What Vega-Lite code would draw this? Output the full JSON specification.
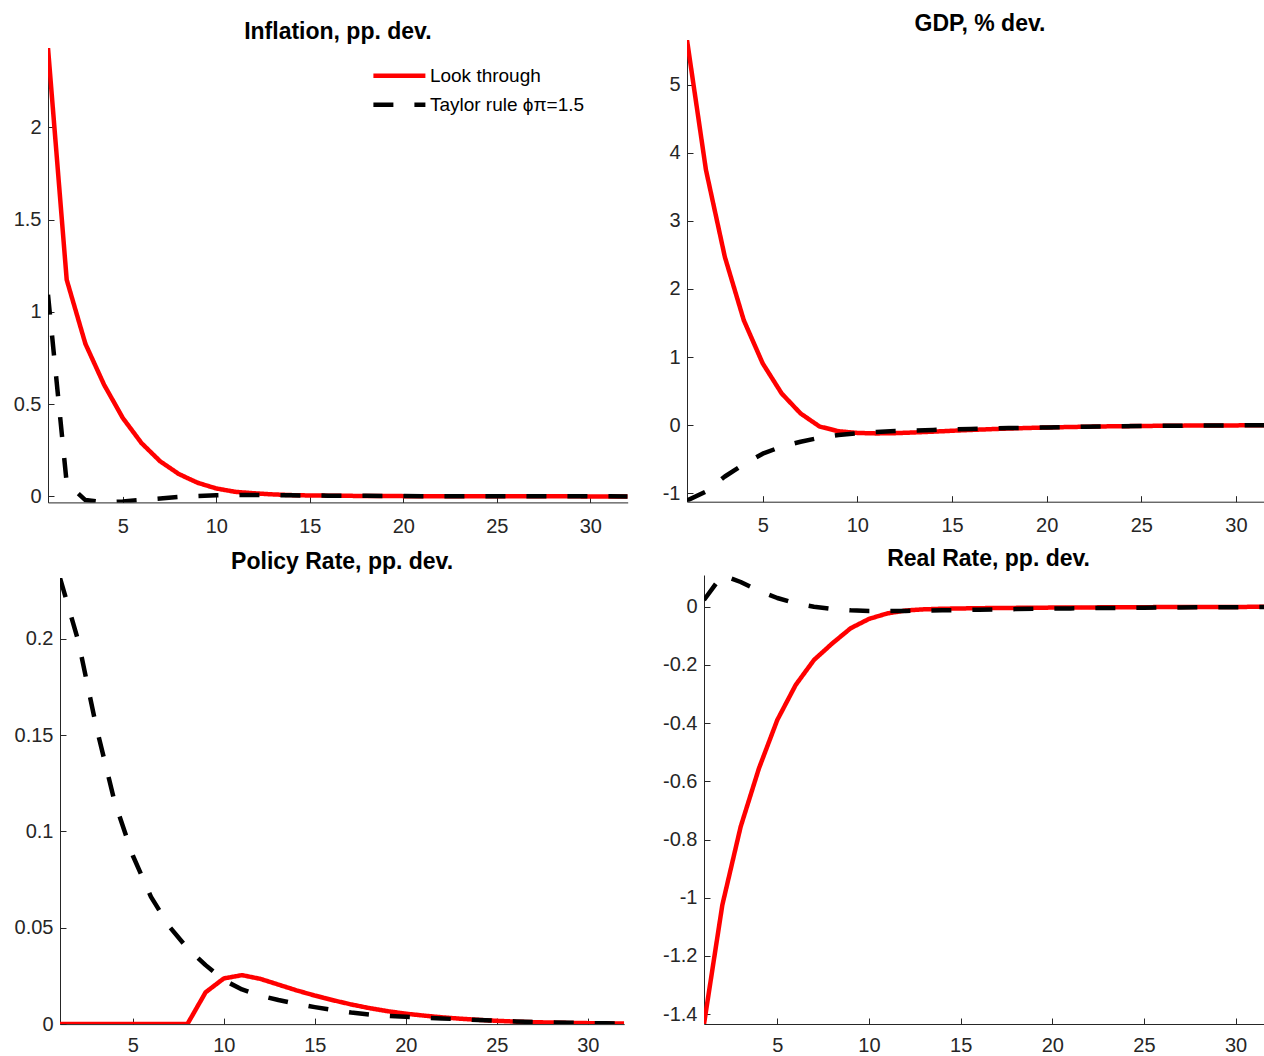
{
  "$schema": "https://vega.github.io/schema/vega-lite/v6.json",
  "padding": {"top": 12, "left": 0, "right": 0, "bottom": 0},
  "background": "white",
  "config": {
    "view": {"stroke": null},
    "font": "Liberation Sans",
    "axis": {"domainColor": "#262626", "domainWidth": 1, "tickColor": "#262626", "tickWidth": 1, "tickSize": -6, "labelColor": "#262626", "labelFont": "Liberation Sans", "labelFontSize": 20, "grid": false},
    "axisX": {"labelPadding": 20},
    "axisY": {"labelPadding": 13},
    "title": {"font": "Liberation Sans", "fontSize": 23, "fontWeight": "bold", "color": "#000000", "offset": 4, "baseline": "bottom", "anchor": "middle"}
  },
  "datasets": {
    "none": [],
    "infl": [
      {"t":1,"s":"Look through","v":2.43},{"t":2,"s":"Look through","v":1.174},{"t":3,"s":"Look through","v":0.827},{"t":4,"s":"Look through","v":0.605},{"t":5,"s":"Look through","v":0.425},{"t":6,"s":"Look through","v":0.289},{"t":7,"s":"Look through","v":0.19},{"t":8,"s":"Look through","v":0.121},{"t":9,"s":"Look through","v":0.074},{"t":10,"s":"Look through","v":0.043},{"t":11,"s":"Look through","v":0.025},{"t":12,"s":"Look through","v":0.017},{"t":13,"s":"Look through","v":0.011},{"t":14,"s":"Look through","v":0.007},{"t":15,"s":"Look through","v":0.005},{"t":16,"s":"Look through","v":0.004},{"t":17,"s":"Look through","v":0.003},{"t":18,"s":"Look through","v":0.0025},{"t":19,"s":"Look through","v":0.002},{"t":20,"s":"Look through","v":0.0015},{"t":21,"s":"Look through","v":0.001},{"t":22,"s":"Look through","v":0.001},{"t":23,"s":"Look through","v":0.0008},{"t":24,"s":"Look through","v":0.0006},{"t":25,"s":"Look through","v":0.0005},{"t":26,"s":"Look through","v":0.0004},{"t":27,"s":"Look through","v":0.0003},{"t":28,"s":"Look through","v":0.0002},{"t":29,"s":"Look through","v":0.0002},{"t":30,"s":"Look through","v":0.0001},{"t":31,"s":"Look through","v":0.0001},{"t":32,"s":"Look through","v":0.0001},
      {"t":1,"s":"Taylor rule ϕπ=1.5","v":1.093},{"t":2,"s":"Taylor rule ϕπ=1.5","v":0.072},{"t":3,"s":"Taylor rule ϕπ=1.5","v":-0.02},{"t":4,"s":"Taylor rule ϕπ=1.5","v":-0.032},{"t":5,"s":"Taylor rule ϕπ=1.5","v":-0.027},{"t":6,"s":"Taylor rule ϕπ=1.5","v":-0.019},{"t":7,"s":"Taylor rule ϕπ=1.5","v":-0.011},{"t":8,"s":"Taylor rule ϕπ=1.5","v":-0.003},{"t":9,"s":"Taylor rule ϕπ=1.5","v":0.002},{"t":10,"s":"Taylor rule ϕπ=1.5","v":0.006},{"t":11,"s":"Taylor rule ϕπ=1.5","v":0.008},{"t":12,"s":"Taylor rule ϕπ=1.5","v":0.008},{"t":13,"s":"Taylor rule ϕπ=1.5","v":0.007},{"t":14,"s":"Taylor rule ϕπ=1.5","v":0.006},{"t":15,"s":"Taylor rule ϕπ=1.5","v":0.005},{"t":16,"s":"Taylor rule ϕπ=1.5","v":0.004},{"t":17,"s":"Taylor rule ϕπ=1.5","v":0.003},{"t":18,"s":"Taylor rule ϕπ=1.5","v":0.003},{"t":19,"s":"Taylor rule ϕπ=1.5","v":0.002},{"t":20,"s":"Taylor rule ϕπ=1.5","v":0.002},{"t":21,"s":"Taylor rule ϕπ=1.5","v":0.0015},{"t":22,"s":"Taylor rule ϕπ=1.5","v":0.001},{"t":23,"s":"Taylor rule ϕπ=1.5","v":0.001},{"t":24,"s":"Taylor rule ϕπ=1.5","v":0.001},{"t":25,"s":"Taylor rule ϕπ=1.5","v":0.0008},{"t":26,"s":"Taylor rule ϕπ=1.5","v":0.0006},{"t":27,"s":"Taylor rule ϕπ=1.5","v":0.0005},{"t":28,"s":"Taylor rule ϕπ=1.5","v":0.0004},{"t":29,"s":"Taylor rule ϕπ=1.5","v":0.0003},{"t":30,"s":"Taylor rule ϕπ=1.5","v":0.0002},{"t":31,"s":"Taylor rule ϕπ=1.5","v":0.0002},{"t":32,"s":"Taylor rule ϕπ=1.5","v":0.0001}
    ],
    "gdp": [
      {"t":1,"s":"Look through","v":5.657},{"t":2,"s":"Look through","v":3.75},{"t":3,"s":"Look through","v":2.47},{"t":4,"s":"Look through","v":1.54},{"t":5,"s":"Look through","v":0.906},{"t":6,"s":"Look through","v":0.465},{"t":7,"s":"Look through","v":0.171},{"t":8,"s":"Look through","v":-0.02},{"t":9,"s":"Look through","v":-0.09},{"t":10,"s":"Look through","v":-0.115},{"t":11,"s":"Look through","v":-0.122},{"t":12,"s":"Look through","v":-0.118},{"t":13,"s":"Look through","v":-0.108},{"t":14,"s":"Look through","v":-0.096},{"t":15,"s":"Look through","v":-0.083},{"t":16,"s":"Look through","v":-0.071},{"t":17,"s":"Look through","v":-0.06},{"t":18,"s":"Look through","v":-0.05},{"t":19,"s":"Look through","v":-0.042},{"t":20,"s":"Look through","v":-0.035},{"t":21,"s":"Look through","v":-0.029},{"t":22,"s":"Look through","v":-0.024},{"t":23,"s":"Look through","v":-0.019},{"t":24,"s":"Look through","v":-0.016},{"t":25,"s":"Look through","v":-0.013},{"t":26,"s":"Look through","v":-0.01},{"t":27,"s":"Look through","v":-0.008},{"t":28,"s":"Look through","v":-0.006},{"t":29,"s":"Look through","v":-0.005},{"t":30,"s":"Look through","v":-0.004},{"t":31,"s":"Look through","v":-0.003},{"t":32,"s":"Look through","v":-0.002},
      {"t":1,"s":"Taylor rule ϕπ=1.5","v":-1.108},{"t":2,"s":"Taylor rule ϕπ=1.5","v":-0.975},{"t":3,"s":"Taylor rule ϕπ=1.5","v":-0.755},{"t":4,"s":"Taylor rule ϕπ=1.5","v":-0.576},{"t":5,"s":"Taylor rule ϕπ=1.5","v":-0.42},{"t":6,"s":"Taylor rule ϕπ=1.5","v":-0.315},{"t":7,"s":"Taylor rule ϕπ=1.5","v":-0.245},{"t":8,"s":"Taylor rule ϕπ=1.5","v":-0.185},{"t":9,"s":"Taylor rule ϕπ=1.5","v":-0.145},{"t":10,"s":"Taylor rule ϕπ=1.5","v":-0.118},{"t":11,"s":"Taylor rule ϕπ=1.5","v":-0.1},{"t":12,"s":"Taylor rule ϕπ=1.5","v":-0.088},{"t":13,"s":"Taylor rule ϕπ=1.5","v":-0.079},{"t":14,"s":"Taylor rule ϕπ=1.5","v":-0.071},{"t":15,"s":"Taylor rule ϕπ=1.5","v":-0.063},{"t":16,"s":"Taylor rule ϕπ=1.5","v":-0.056},{"t":17,"s":"Taylor rule ϕπ=1.5","v":-0.05},{"t":18,"s":"Taylor rule ϕπ=1.5","v":-0.044},{"t":19,"s":"Taylor rule ϕπ=1.5","v":-0.039},{"t":20,"s":"Taylor rule ϕπ=1.5","v":-0.034},{"t":21,"s":"Taylor rule ϕπ=1.5","v":-0.029},{"t":22,"s":"Taylor rule ϕπ=1.5","v":-0.024},{"t":23,"s":"Taylor rule ϕπ=1.5","v":-0.019},{"t":24,"s":"Taylor rule ϕπ=1.5","v":-0.016},{"t":25,"s":"Taylor rule ϕπ=1.5","v":-0.013},{"t":26,"s":"Taylor rule ϕπ=1.5","v":-0.01},{"t":27,"s":"Taylor rule ϕπ=1.5","v":-0.008},{"t":28,"s":"Taylor rule ϕπ=1.5","v":-0.006},{"t":29,"s":"Taylor rule ϕπ=1.5","v":-0.005},{"t":30,"s":"Taylor rule ϕπ=1.5","v":-0.004},{"t":31,"s":"Taylor rule ϕπ=1.5","v":-0.003},{"t":32,"s":"Taylor rule ϕπ=1.5","v":-0.002}
    ],
    "pol": [
      {"t":1,"s":"Look through","v":0},{"t":2,"s":"Look through","v":0},{"t":3,"s":"Look through","v":0},{"t":4,"s":"Look through","v":0},{"t":5,"s":"Look through","v":0},{"t":6,"s":"Look through","v":0},{"t":7,"s":"Look through","v":0},{"t":8,"s":"Look through","v":0},{"t":9,"s":"Look through","v":0.0165},{"t":10,"s":"Look through","v":0.0237},{"t":11,"s":"Look through","v":0.0254},{"t":12,"s":"Look through","v":0.0235},{"t":13,"s":"Look through","v":0.0205},{"t":14,"s":"Look through","v":0.0175},{"t":15,"s":"Look through","v":0.0148},{"t":16,"s":"Look through","v":0.0124},{"t":17,"s":"Look through","v":0.0102},{"t":18,"s":"Look through","v":0.0083},{"t":19,"s":"Look through","v":0.0067},{"t":20,"s":"Look through","v":0.0054},{"t":21,"s":"Look through","v":0.0044},{"t":22,"s":"Look through","v":0.0035},{"t":23,"s":"Look through","v":0.0028},{"t":24,"s":"Look through","v":0.0022},{"t":25,"s":"Look through","v":0.0017},{"t":26,"s":"Look through","v":0.0013},{"t":27,"s":"Look through","v":0.001},{"t":28,"s":"Look through","v":0.0008},{"t":29,"s":"Look through","v":0.0006},{"t":30,"s":"Look through","v":0.0005},{"t":31,"s":"Look through","v":0.0004},{"t":32,"s":"Look through","v":0.0003},
      {"t":1,"s":"Taylor rule ϕπ=1.5","v":0.2315},{"t":2,"s":"Taylor rule ϕπ=1.5","v":0.199},{"t":3,"s":"Taylor rule ϕπ=1.5","v":0.154},{"t":4,"s":"Taylor rule ϕπ=1.5","v":0.1154},{"t":5,"s":"Taylor rule ϕπ=1.5","v":0.0875},{"t":6,"s":"Taylor rule ϕπ=1.5","v":0.066},{"t":7,"s":"Taylor rule ϕπ=1.5","v":0.0507},{"t":8,"s":"Taylor rule ϕπ=1.5","v":0.0394},{"t":9,"s":"Taylor rule ϕπ=1.5","v":0.0306},{"t":10,"s":"Taylor rule ϕπ=1.5","v":0.0228},{"t":11,"s":"Taylor rule ϕπ=1.5","v":0.018},{"t":12,"s":"Taylor rule ϕπ=1.5","v":0.0148},{"t":13,"s":"Taylor rule ϕπ=1.5","v":0.0125},{"t":14,"s":"Taylor rule ϕπ=1.5","v":0.0105},{"t":15,"s":"Taylor rule ϕπ=1.5","v":0.0088},{"t":16,"s":"Taylor rule ϕπ=1.5","v":0.0073},{"t":17,"s":"Taylor rule ϕπ=1.5","v":0.006},{"t":18,"s":"Taylor rule ϕπ=1.5","v":0.005},{"t":19,"s":"Taylor rule ϕπ=1.5","v":0.0043},{"t":20,"s":"Taylor rule ϕπ=1.5","v":0.0038},{"t":21,"s":"Taylor rule ϕπ=1.5","v":0.0033},{"t":22,"s":"Taylor rule ϕπ=1.5","v":0.0029},{"t":23,"s":"Taylor rule ϕπ=1.5","v":0.0025},{"t":24,"s":"Taylor rule ϕπ=1.5","v":0.0021},{"t":25,"s":"Taylor rule ϕπ=1.5","v":0.0017},{"t":26,"s":"Taylor rule ϕπ=1.5","v":0.0014},{"t":27,"s":"Taylor rule ϕπ=1.5","v":0.0011},{"t":28,"s":"Taylor rule ϕπ=1.5","v":0.0009},{"t":29,"s":"Taylor rule ϕπ=1.5","v":0.0007},{"t":30,"s":"Taylor rule ϕπ=1.5","v":0.0005},{"t":31,"s":"Taylor rule ϕπ=1.5","v":0.0004},{"t":32,"s":"Taylor rule ϕπ=1.5","v":0.0003}
    ],
    "rr": [
      {"t":1,"s":"Look through","v":-1.434},{"t":2,"s":"Look through","v":-1.025},{"t":3,"s":"Look through","v":-0.756},{"t":4,"s":"Look through","v":-0.555},{"t":5,"s":"Look through","v":-0.389},{"t":6,"s":"Look through","v":-0.269},{"t":7,"s":"Look through","v":-0.183},{"t":8,"s":"Look through","v":-0.126},{"t":9,"s":"Look through","v":-0.074},{"t":10,"s":"Look through","v":-0.042},{"t":11,"s":"Look through","v":-0.023},{"t":12,"s":"Look through","v":-0.013},{"t":13,"s":"Look through","v":-0.009},{"t":14,"s":"Look through","v":-0.007},{"t":15,"s":"Look through","v":-0.006},{"t":16,"s":"Look through","v":-0.005},{"t":17,"s":"Look through","v":-0.0045},{"t":18,"s":"Look through","v":-0.004},{"t":19,"s":"Look through","v":-0.0035},{"t":20,"s":"Look through","v":-0.003},{"t":21,"s":"Look through","v":-0.0027},{"t":22,"s":"Look through","v":-0.0024},{"t":23,"s":"Look through","v":-0.0021},{"t":24,"s":"Look through","v":-0.0018},{"t":25,"s":"Look through","v":-0.0015},{"t":26,"s":"Look through","v":-0.0013},{"t":27,"s":"Look through","v":-0.0011},{"t":28,"s":"Look through","v":-0.0009},{"t":29,"s":"Look through","v":-0.0007},{"t":30,"s":"Look through","v":-0.0006},{"t":31,"s":"Look through","v":-0.0005},{"t":32,"s":"Look through","v":-0.0004},
      {"t":1,"s":"Taylor rule ϕπ=1.5","v":0.023},{"t":2,"s":"Taylor rule ϕπ=1.5","v":0.109},{"t":3,"s":"Taylor rule ϕπ=1.5","v":0.085},{"t":4,"s":"Taylor rule ϕπ=1.5","v":0.055},{"t":5,"s":"Taylor rule ϕπ=1.5","v":0.03},{"t":6,"s":"Taylor rule ϕπ=1.5","v":0.0115},{"t":7,"s":"Taylor rule ϕπ=1.5","v":0},{"t":8,"s":"Taylor rule ϕπ=1.5","v":-0.008},{"t":9,"s":"Taylor rule ϕπ=1.5","v":-0.0125},{"t":10,"s":"Taylor rule ϕπ=1.5","v":-0.0148},{"t":11,"s":"Taylor rule ϕπ=1.5","v":-0.015},{"t":12,"s":"Taylor rule ϕπ=1.5","v":-0.0145},{"t":13,"s":"Taylor rule ϕπ=1.5","v":-0.0135},{"t":14,"s":"Taylor rule ϕπ=1.5","v":-0.0125},{"t":15,"s":"Taylor rule ϕπ=1.5","v":-0.0113},{"t":16,"s":"Taylor rule ϕπ=1.5","v":-0.0102},{"t":17,"s":"Taylor rule ϕπ=1.5","v":-0.0092},{"t":18,"s":"Taylor rule ϕπ=1.5","v":-0.0082},{"t":19,"s":"Taylor rule ϕπ=1.5","v":-0.0073},{"t":20,"s":"Taylor rule ϕπ=1.5","v":-0.0065},{"t":21,"s":"Taylor rule ϕπ=1.5","v":-0.0057},{"t":22,"s":"Taylor rule ϕπ=1.5","v":-0.005},{"t":23,"s":"Taylor rule ϕπ=1.5","v":-0.0044},{"t":24,"s":"Taylor rule ϕπ=1.5","v":-0.0038},{"t":25,"s":"Taylor rule ϕπ=1.5","v":-0.0033},{"t":26,"s":"Taylor rule ϕπ=1.5","v":-0.0029},{"t":27,"s":"Taylor rule ϕπ=1.5","v":-0.0025},{"t":28,"s":"Taylor rule ϕπ=1.5","v":-0.0022},{"t":29,"s":"Taylor rule ϕπ=1.5","v":-0.0019},{"t":30,"s":"Taylor rule ϕπ=1.5","v":-0.0016},{"t":31,"s":"Taylor rule ϕπ=1.5","v":-0.0014},{"t":32,"s":"Taylor rule ϕπ=1.5","v":-0.0012}
    ]
  },
  "resolve": {"scale": {"color": "independent", "strokeDash": "independent"}, "legend": {"color": "independent", "strokeDash": "independent"}},
  "spacing": 10,
  "vconcat": [
    {
      "spacing": 0,
      "resolve": {"scale": {"color": "independent", "strokeDash": "independent"}, "legend": {"color": "independent", "strokeDash": "independent"}},
      "hconcat": [
        {"width": 1, "height": 1, "data": {"name": "none"}, "mark": "point"},
        {
          "spacing": 0,
          "resolve": {"scale": {"color": "independent", "strokeDash": "independent"}, "legend": {"color": "independent", "strokeDash": "independent"}},
          "vconcat": [
            {"width": 1, "height": 9, "data": {"name": "none"}, "mark": "point"},
            {
              "title": {"text": "Inflation, pp. dev."},
              "width": 579.7, "height": 454.4,
              "data": {"name": "infl"},
              "mark": {"type": "line", "strokeWidth": 4.5, "clip": true, "strokeJoin": "round"},
              "encoding": {
                "x": {"field": "t", "type": "quantitative", "title": null, "scale": {"domain": [1, 32], "nice": false, "zero": false}, "axis": {"values": [5, 10, 15, 20, 25, 30]}},
                "y": {"field": "v", "type": "quantitative", "title": null, "scale": {"domain": [-0.0325, 2.43], "nice": false, "zero": false}, "axis": {"values": [0, 0.5, 1, 1.5, 2], "labelExpr": "'' + datum.value", "minExtent": 47, "maxExtent": 47}},
                "color": {"field": "s", "type": "nominal", "scale": {"domain": ["Look through", "Taylor rule ϕπ=1.5"], "range": ["#ff0000", "#000000"]}, "legend": {"orient": "none", "legendX": 322.9, "legendY": 13.7, "title": null, "symbolType": "stroke", "symbolSize": 2704, "symbolStrokeWidth": 4.5, "labelFontSize": 19, "labelFont": "Liberation Sans", "labelColor": "#000000", "labelOffset": 2, "labelLimit": 300, "clipHeight": 28, "rowPadding": 1, "padding": 0}},
                "strokeDash": {"field": "s", "type": "nominal", "scale": {"domain": ["Look through", "Taylor rule ϕπ=1.5"], "range": [[1, 0], [20, 21]]}, "legend": {"orient": "none", "legendX": 322.9, "legendY": 13.7, "title": null, "symbolType": "stroke", "symbolSize": 2704, "symbolStrokeWidth": 4.5, "labelFontSize": 19, "labelFont": "Liberation Sans", "labelColor": "#000000", "labelOffset": 2, "labelLimit": 300, "clipHeight": 28, "rowPadding": 1, "padding": 0}}
              }
            }
          ]
        },
        {
          "spacing": 0,
          "resolve": {"scale": {"color": "independent", "strokeDash": "independent"}, "legend": {"color": "independent", "strokeDash": "independent"}},
          "vconcat": [
            {"width": 1, "height": 1, "data": {"name": "none"}, "mark": "point"},
            {
              "title": {"text": "GDP, % dev.", "dx": 4.5},
              "width": 577, "height": 461.7,
              "data": {"name": "gdp"},
              "mark": {"type": "line", "strokeWidth": 4.5, "clip": true, "strokeJoin": "round"},
              "encoding": {
                "x": {"field": "t", "type": "quantitative", "title": null, "scale": {"domain": [1, 31.48], "nice": false, "zero": false}, "axis": {"values": [5, 10, 15, 20, 25, 30]}},
                "y": {"field": "v", "type": "quantitative", "title": null, "scale": {"domain": [-1.125, 5.657], "nice": false, "zero": false}, "axis": {"values": [-1, 0, 1, 2, 3, 4, 5], "labelExpr": "'' + datum.value", "minExtent": 59, "maxExtent": 59}},
                "color": {"field": "s", "type": "nominal", "scale": {"domain": ["Look through", "Taylor rule ϕπ=1.5"], "range": ["#ff0000", "#000000"]}, "legend": null},
                "strokeDash": {"field": "s", "type": "nominal", "scale": {"domain": ["Look through", "Taylor rule ϕπ=1.5"], "range": [[1, 0], [20, 21]]}, "legend": null}
              }
            }
          ]
        }
      ]
    },
    {
      "spacing": 0,
      "resolve": {"scale": {"color": "independent", "strokeDash": "independent"}, "legend": {"color": "independent", "strokeDash": "independent"}},
      "hconcat": [
        {"width": 1, "height": 1, "data": {"name": "none"}, "mark": "point"},
        {
          "spacing": 0,
          "resolve": {"scale": {"color": "independent", "strokeDash": "independent"}, "legend": {"color": "independent", "strokeDash": "independent"}},
          "vconcat": [
            {"width": 1, "height": 4, "data": {"name": "none"}, "mark": "point"},
            {
              "title": {"text": "Policy Rate, pp. dev."},
              "width": 564.2, "height": 446.1,
              "data": {"name": "pol"},
              "mark": {"type": "line", "strokeWidth": 4.5, "clip": true, "strokeJoin": "round"},
              "encoding": {
                "x": {"field": "t", "type": "quantitative", "title": null, "scale": {"domain": [1, 32], "nice": false, "zero": false}, "axis": {"values": [5, 10, 15, 20, 25, 30], "labelPadding": 17.8}},
                "y": {"field": "v", "type": "quantitative", "title": null, "scale": {"domain": [0, 0.2315], "nice": false, "zero": false}, "axis": {"values": [0, 0.05, 0.1, 0.15, 0.2], "labelExpr": "'' + datum.value", "minExtent": 59, "maxExtent": 59}},
                "color": {"field": "s", "type": "nominal", "scale": {"domain": ["Look through", "Taylor rule ϕπ=1.5"], "range": ["#ff0000", "#000000"]}, "legend": null},
                "strokeDash": {"field": "s", "type": "nominal", "scale": {"domain": ["Look through", "Taylor rule ϕπ=1.5"], "range": [[1, 0], [20, 21]]}, "legend": null}
              }
            }
          ]
        },
        {
          "spacing": 0,
          "resolve": {"scale": {"color": "independent", "strokeDash": "independent"}, "legend": {"color": "independent", "strokeDash": "independent"}},
          "vconcat": [
            {"width": 1, "height": 1, "data": {"name": "none"}, "mark": "point"},
            {
              "title": {"text": "Real Rate, pp. dev.", "dx": 4.6},
              "width": 560, "height": 449,
              "data": {"name": "rr"},
              "mark": {"type": "line", "strokeWidth": 4.5, "clip": true, "strokeJoin": "round"},
              "encoding": {
                "x": {"field": "t", "type": "quantitative", "title": null, "scale": {"domain": [1, 31.55], "nice": false, "zero": false}, "axis": {"values": [5, 10, 15, 20, 25, 30], "labelPadding": 17.8}},
                "y": {"field": "v", "type": "quantitative", "title": null, "scale": {"domain": [-1.434, 0.109], "nice": false, "zero": false}, "axis": {"values": [-1.4, -1.2, -1, -0.8, -0.6, -0.4, -0.2, 0], "labelExpr": "'' + datum.value", "minExtent": 79, "maxExtent": 79}},
                "color": {"field": "s", "type": "nominal", "scale": {"domain": ["Look through", "Taylor rule ϕπ=1.5"], "range": ["#ff0000", "#000000"]}, "legend": null},
                "strokeDash": {"field": "s", "type": "nominal", "scale": {"domain": ["Look through", "Taylor rule ϕπ=1.5"], "range": [[1, 0], [20, 21]]}, "legend": null}
              }
            }
          ]
        }
      ]
    }
  ]
}
